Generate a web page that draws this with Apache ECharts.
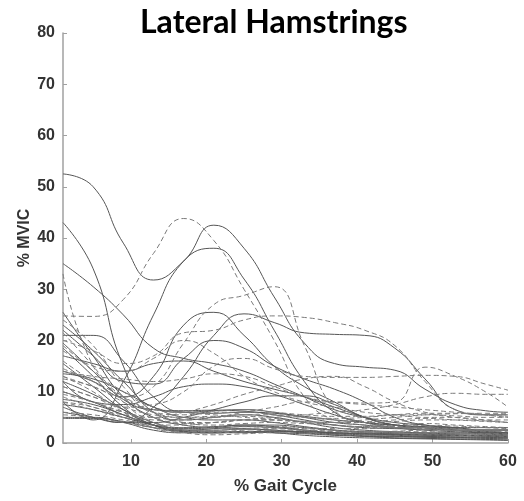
<!DOCTYPE html>
<html>
<head>
<meta charset="utf-8">
<script src="https://cdn.jsdelivr.net/npm/echarts@6/dist/echarts.min.js"></script>
<style>
  html, body { margin: 0; padding: 0; background: #fff; }
  #chart { width: 524px; height: 501px; }
</style>
</head>
<body>
<div id="chart"></div>
<script>
  // % gait cycle sample points
  const gait = [1, 5, 9, 13, 17, 21, 25, 29, 33, 37, 41, 45, 49, 53, 57, 60]
  const xTicks = [10, 20, 30, 40, 50, 60]

  // tall curves
  const sA = [52.5, 50, 39, 31.8, 35.5, 42.5, 38, 28.5, 19.5, 15.5, 14.8, 14.2, 10.5, 7.5, 6.3, 6]
  const sG = [43, 34, 15, 6, 4.5, 5, 5.5, 5, 4, 3, 2.5, 2.2, 2, 2, 1.8, 1.8]
  const sF = [35, 30.5, 25, 18.5, 16.5, 15.5, 14, 11.5, 9, 6.5, 5, 4, 3.5, 3, 2.5, 2.5]
  const dM = [33, 15, 10, 7, 6, 5.5, 5, 4.5, 4, 3.5, 3, 3, 3, 2.5, 2.5, 2.5]
  const sB = [8, 4.5, 12, 25, 35.5, 38, 32, 22, 12, 6, 4, 3.5, 3, 2.5, 2, 2]
  const dE = [24.8, 24.7, 28, 37, 43.8, 39.5, 30, 20, 9, 4.5, 3.5, 3, 2.8, 2.5, 2.5, 2.5]
  const dH = [13, 11, 9, 11, 19.5, 27, 28.8, 30.5, 19, 6.5, 4, 3.2, 3, 2.5, 2.5, 2.5]
  const dI = [20, 18, 15.5, 17, 21.5, 22, 24, 24.8, 24.5, 23.5, 22, 19, 12, 6.5, 5.5, 5]
  const sD = [7, 5, 4, 7, 13, 21, 25.2, 23.5, 21.5, 21.2, 21, 18.5, 12.5, 6.5, 5.5, 5.5]
  const sC = [14, 12, 9, 13, 23, 25.5, 21, 15, 11, 8, 5, 3.5, 3, 2.5, 2, 2]
  const sJ = [22, 17, 12, 11.5, 16.5, 20, 18.5, 15, 12.5, 10.5, 8, 5, 3.5, 3, 2.5, 2.5]
  const dK = [18, 15, 14, 16.5, 20, 17.5, 13, 10, 8, 7, 6, 5.5, 5, 5, 4.5, 4.5]
  const dL = [11, 9, 7, 7.5, 10, 15, 16.5, 14.5, 13, 12.8, 12.8, 13, 13.2, 13, 11.5, 10.3]
  const dN = [10, 8, 6, 5, 4.5, 5, 6, 7, 8, 8, 7.8, 8, 14.8, 13, 10, 7]
  const sO = [17, 15.5, 14, 15.5, 16, 14, 12, 10.5, 9, 7, 5, 3.5, 3, 2.5, 2.3, 2]
  const sP = [12, 8, 7.5, 9, 11, 11.5, 11, 9.5, 7.5, 5.5, 4, 3, 2.5, 2.2, 2, 1.8]
  const sQ = [6, 5, 4, 4, 5, 6.5, 8, 9.2, 9.2, 7.5, 5, 3.5, 3, 2.5, 2.2, 2]
  const dR = [14, 13, 12.5, 12, 12.5, 13.5, 13, 11, 9, 8, 7.5, 7, 6.5, 6, 5.5, 5.2]
  const dS = [9, 7, 5.5, 5, 6, 7.5, 9.5, 11, 12.5, 13, 11, 8, 6, 5, 4.5, 4]
  const dU = [8, 6.5, 5, 4.5, 4, 4, 4.5, 5, 5.5, 6, 6.5, 7.5, 9, 9.7, 9.5, 9.5]

  // low crowd
  const l1 = [25.5, 17, 9, 5, 3.5, 3, 2.8, 2.5, 2.2, 2, 1.8, 1.6, 1.5, 1.4, 1.3, 1.2]
  const l2 = [24, 19, 11, 6, 5.5, 6, 6, 5.5, 5, 4.8, 5, 5.5, 5.8, 5.8, 5.5, 5.5]
  const l3 = [23, 18, 12, 7, 6, 6.3, 6.5, 6, 5, 4, 3.5, 3, 3, 2.8, 2.5, 2.5]
  const l4 = [21.5, 15, 8, 4, 2.5, 2.2, 2.5, 2.8, 2.5, 2.2, 2, 2, 1.8, 1.8, 1.7, 1.5]
  const l5 = [21, 21, 16, 9, 6, 5.8, 6, 5.8, 5.2, 4.5, 4, 3.5, 3.2, 3, 3, 3]
  const l6 = [19, 14, 9, 6, 5, 5, 5.5, 5.5, 5, 4.5, 4.2, 4.5, 4.8, 4.5, 4.2, 4]
  const l7 = [18.5, 13, 7, 3.5, 2.2, 2, 2.2, 2.3, 2, 1.8, 1.6, 1.5, 1.3, 1.2, 1.1, 1]
  const l8 = [16, 12, 8.5, 6.5, 6, 6.2, 6.5, 6, 5.5, 5.2, 5.2, 5.5, 5.5, 5.3, 5, 5]
  const l9 = [15.5, 11, 6.5, 3.5, 2.5, 2.8, 3.2, 3, 2.5, 2, 1.8, 1.7, 1.6, 1.5, 1.4, 1.3]
  const l10 = [14.5, 12, 9, 6, 4, 3.5, 3.8, 4, 3.8, 3.5, 3.2, 3.5, 3.8, 3.5, 3.2, 3]
  const l11 = [13.5, 12.5, 10, 7, 5, 4.5, 4.5, 4, 3.2, 2.5, 2, 1.8, 1.7, 1.6, 1.5, 1.5]
  const l12 = [13, 10, 6, 3, 2, 2, 2.2, 2.5, 2.5, 2.3, 2.2, 2.3, 2.5, 2.4, 2.2, 2.2]
  const l13 = [12, 9.5, 6.5, 4, 2.5, 2.2, 2.2, 2, 1.8, 1.5, 1.3, 1.2, 1.1, 1, 0.9, 0.8]
  const l14 = [11, 9, 7, 5.5, 5, 5.2, 5.2, 4.8, 4.2, 4, 4, 4.2, 4.5, 4.5, 4.3, 4]
  const l15 = [10, 8, 5.5, 3.5, 2.8, 3, 3.5, 3.5, 3, 2.5, 2.2, 2, 1.9, 1.8, 1.7, 1.6]
  const l16 = [9.5, 8, 6, 4, 3, 3, 3.2, 3.2, 3, 2.8, 2.8, 3, 3, 2.8, 2.6, 2.5]
  const l17 = [8.5, 7.5, 5.5, 3.5, 2.3, 2, 2, 2.2, 2.2, 2, 1.8, 1.7, 1.6, 1.5, 1.4, 1.3]
  const l18 = [8, 7, 5, 3, 2, 1.6, 1.8, 2, 1.9, 1.7, 1.5, 1.5, 1.6, 1.5, 1.4, 1.3]
  const l19 = [7.5, 6.5, 5, 3.5, 3, 3.2, 3.5, 3.2, 2.5, 1.8, 1.3, 1, 0.9, 0.8, 0.7, 0.6]
  const l20 = [6, 5.5, 4.5, 3.5, 3.5, 4, 4.5, 4.5, 4, 3.5, 3.2, 3.2, 3.4, 3.3, 3, 2.8]
  const l21 = [5, 5, 4, 2.5, 2, 2, 2.2, 2, 1.5, 1.2, 1, 0.9, 0.8, 0.7, 0.6, 0.5]
  const l22 = [5.5, 5, 4, 3, 2.5, 2.5, 2.8, 3, 2.8, 2.5, 2.3, 2.2, 2.2, 2, 1.8, 1.8]
  const l23 = [4.8, 4.8, 4.2, 3, 2.5, 2.5, 2.7, 2.5, 2, 1.6, 1.4, 1.3, 1.2, 1.1, 1, 1]
  const l24 = [19.5, 14, 8.5, 6.5, 6.3, 6.4, 6.2, 5.5, 4.5, 3.5, 3, 2.8, 2.7, 2.5, 2.5, 2.5]
  const l25 = [12.5, 11, 8, 5, 3.8, 4, 4.5, 4.5, 4.2, 4, 4.5, 5, 5.5, 5.7, 5.8, 5.8]

  const solidCurves = [sA, sG, sF, sB, sD, sC, sJ, sO, sP, sQ,
    l1, l3, l5, l7, l9, l11, l13, l15, l17, l19, l21, l23, l24]
  const dashedCurves = [dM, dE, dH, dI, dK, dL, dN, dR, dS, dU,
    l2, l4, l6, l8, l10, l12, l14, l16, l18, l20, l22, l25]

  const makeSeries = (vals, dashed) => ({
    type: 'line',
    data: gait.map((x, i) => [x, vals[i]]),
    smooth: 0.5,
    symbol: 'none',
    silent: true,
    lineStyle: dashed
      ? { color: '#7a7a7a', width: 1, type: [5, 3] }
      : { color: '#555', width: 1 }
  })

  let myChart = echarts.init(document.getElementById('chart'))
  myChart.setOption({
    animation: false,
    title: {
      text: 'Lateral Hamstrings',
      left: 135,
      top: 2,
      textStyle: { fontFamily: 'Lato', fontWeight: 'bold', fontSize: 32, color: '#000' }
    },
    grid: { left: 63, right: 16, top: 33, bottom: 58 },
    xAxis: {
      type: 'value',
      min: 1,
      max: 60,
      name: '% Gait Cycle',
      nameLocation: 'middle',
      nameGap: 35,
      nameTextStyle: { fontFamily: 'Liberation Sans', fontWeight: 'bold', fontSize: 17, color: '#333' },
      splitLine: { show: false },
      axisLine: { lineStyle: { color: '#a0a0a0', width: 1.5 } },
      axisTick: { inside: true, length: 4, customValues: xTicks, lineStyle: { color: '#a0a0a0' } },
      axisLabel: {
        customValues: xTicks,
        margin: 11,
        fontFamily: 'Liberation Sans', fontWeight: 'bold', fontSize: 16, color: '#333'
      }
    },
    yAxis: {
      type: 'value',
      min: 0,
      max: 80,
      interval: 10,
      name: '% MVIC',
      nameLocation: 'middle',
      nameGap: 30,
      nameMoveOverlap: false,
      nameTextStyle: { fontFamily: 'Liberation Sans', fontWeight: 'bold', fontSize: 16, color: '#333' },
      splitLine: { show: false },
      axisLine: { show: true, lineStyle: { color: '#a0a0a0', width: 1.5 } },
      axisTick: { show: true, inside: true, length: 4, lineStyle: { color: '#a0a0a0' } },
      axisLabel: { margin: 8, fontFamily: 'Liberation Sans', fontWeight: 'bold', fontSize: 16, color: '#333' }
    },
    series: [
      ...solidCurves.map(v => makeSeries(v, false)),
      ...dashedCurves.map(v => makeSeries(v, true))
    ]
  })
</script>
</body>
</html>
